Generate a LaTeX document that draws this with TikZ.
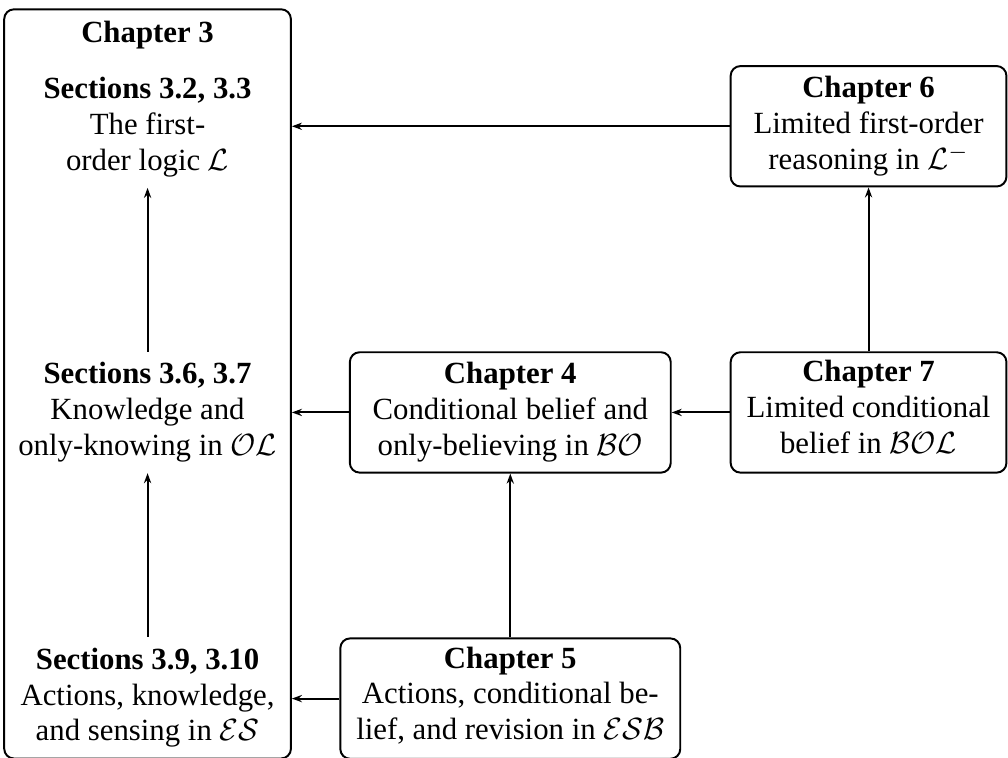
\documentclass[tikz,border=0pt]{standalone}
\usepackage{fontspec}
\setmainfont{Liberation Serif}
\usetikzlibrary{positioning,fit,arrows.meta}

\begin{document}
\begin{tikzpicture}[font=\fontsize{11}{12.8}\selectfont, node distance=58.5pt and 20.7pt, chapter/.style={draw, line width=0.7pt, rounded corners=3.5pt, align=center, minimum height=43pt, inner xsep=3pt, inner ysep=2pt}, section/.style={align=center, minimum height=43pt, minimum width=102pt, inner xsep=3pt, inner ysep=2pt}, heading/.style={font=\fontsize{11}{12.8}\selectfont\bfseries, inner sep=4pt}, link/.style={-{Stealth[length=3.6pt, width=2.6pt, inset=1.2pt]}, line width=0.7pt}]
\useasboundingbox (0,0) rectangle (360pt,270.6pt);
\node[chapter, minimum width=98.5pt] (bol) at (310.2pt,123.3pt) {\textbf{Chapter 7}\\Limited conditional\\belief in $\mathcal{BOL}$\strut};
\node[chapter, minimum width=98.5pt, above=of bol] (lfol) {\textbf{Chapter 6}\\Limited first-order\\reasoning in $\mathcal{L}^-$};
\node[chapter, minimum width=114.6pt, left=of bol] (bo) {\textbf{Chapter 4}\\Conditional belief and\\only-believing in $\mathcal{BO}$};
\node[chapter, minimum width=121.4pt, below=of bo] (esb) {\textbf{Chapter 5}\\Actions, conditional be-\\lief, and revision in $\mathcal{ESB}$\strut};
\node[section, left=of bo] (oknow) {\textbf{Sections 3.6, 3.7}\\Knowledge and\\only-knowing in $\mathcal{OL}$};
\node[section, above=of oknow] (fol) {\textbf{Sections 3.2, 3.3}\\The first-\\order logic $\mathcal{L}$};
\node[section, below=of oknow] (es) {\textbf{Sections 3.9, 3.10}\\Actions, knowledge,\\and sensing in $\mathcal{ES}$};
\node[heading, above=2pt of fol] (title) {Chapter 3};
\node[draw, line width=0.7pt, rounded corners=3.5pt, inner sep=0pt, fit=(title)(fol)(es)] (core) {};
\draw[link] (lfol) -- (lfol -| core.east);
\draw[link] (bo) -- (bo -| core.east);
\draw[link] (esb) -- (esb -| core.east);
\draw[link] (bol) -- (bo);
\draw[link] (bol) -- (lfol);
\draw[link] (esb) -- (bo);
\draw[link] (oknow) -- (fol);
\draw[link] (es) -- (oknow);
\end{tikzpicture}
\end{document}
